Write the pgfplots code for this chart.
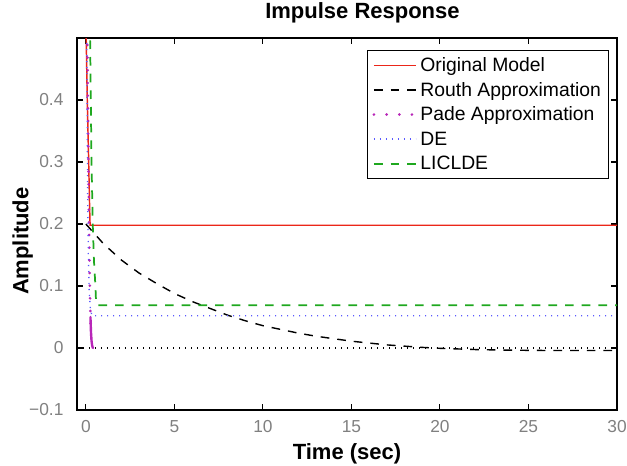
\documentclass[border=0pt]{standalone}
\usepackage{fontspec}
\setmainfont{Liberation Sans}
\usepackage{pgfplots}
\pgfplotsset{compat=1.18}
\definecolor{mred}{rgb}{0.92,0.15,0.1}
\definecolor{mgreen}{rgb}{0.12,0.66,0.12}
\definecolor{mmag}{rgb}{0.72,0.15,0.72}
\definecolor{mblue}{rgb}{0.35,0.35,1}
\definecolor{tickgray}{rgb}{0.5,0.5,0.5}
\begin{document}
\begin{tikzpicture}
\path[use as bounding box] (-57.75pt,-41.25pt) rectangle (412.5pt,307.5pt);
\begin{axis}[
  at={(0pt,0pt)}, anchor=south west,
  scale only axis, width=405pt, height=279pt,
  xmin=-0.5, xmax=30, ymin=-0.1, ymax=0.5,
  xtick={0,5,10,15,20,25,30},
  xticklabels={0,5,10,15,20,25,30},
  ytick={-0.1,0,0.1,0.2,0.3,0.4},
  yticklabels={−0.1,0,0.1,0.2,0.3,0.4},
  /pgf/number format/assume math mode=true,
  tick align=inside,
  major tick length=4.5pt,
  every tick/.style={black, line width=0.8pt},
  axis line style={black, line width=0.9pt},
  every tick label/.append style={text=tickgray, font=\fontsize{13}{15}\selectfont},
  xticklabel style={inner sep=0pt, anchor=north, yshift=-7.5pt},
  yticklabel style={inner sep=0pt, anchor=east, xshift=-10pt},
  title={Impulse Response},
  title style={at={(axis description cs:0.5,1)}, anchor=base, yshift=9pt, xshift=11.6pt, font=\bfseries\fontsize{16.5}{19}\selectfont},
  xlabel={Time (sec)},
  xlabel style={at={(axis description cs:0.5,0)}, anchor=base, yshift=-36.75pt, font=\bfseries\fontsize{16.5}{19}\selectfont},
  after end axis/.code={
    \node[anchor=base, rotate=90, inner sep=0pt, font=\bfseries\fontsize{16.5}{19}\selectfont]
      at ([xshift=-36.5pt]rel axis cs:0,0.454) {Amplitude};
  },
  legend style={at={(0.985,0.968)}, anchor=north east, draw=black, line width=0.9pt,
    inner xsep=4pt, inner ysep=4pt, row sep=4pt, column sep=0.75pt,
    font=\fontsize{14.5}{17}\selectfont,
    nodes={inner sep=1.5pt, text height=10.4pt, text depth=1pt}},
  legend cell align=left,
  legend image code/.code={\draw[#1] (0pt,0pt) -- (31.5pt,0pt);},
]
% zero reference line
\addplot[forget plot, black, line width=0.9pt, dash pattern=on 0.9pt off 3.6pt]
  coordinates {(-0.5,0) (30,0)};

% Original model
\addplot[mred, line width=1.1pt, legend image post style={line width=1.4pt}] coordinates {
 (0.0,0.56) (0.02,0.50) (0.08,0.40) (0.16,0.30) (0.21,0.23) (0.24,0.198) (30,0.198)};
\addlegendentry{Original Model}

% Routh approximation
\addplot[black, line width=1.05pt, dash pattern=on 6.5pt off 6pt, legend image post style={line width=1.4pt}] coordinates {
 (0,0.200) (1,0.168) (2,0.142) (3,0.121) (4,0.104) (5,0.088) (6,0.075) (7,0.064)
 (8,0.053) (9,0.044) (10,0.036) (11,0.030) (12,0.024) (13,0.019) (14,0.015)
 (15,0.011) (16,0.008) (17,0.005) (18,0.003) (19,0.001) (20,-0.0005) (21,-0.0015)
 (22,-0.0025) (23,-0.003) (24,-0.0035) (26,-0.004) (28,-0.004) (30,-0.004)};
\addlegendentry{Routh Approximation}

% Pade approximation
\addplot[mmag, line width=2.2pt, line cap=round, dash pattern=on 0pt off 9.5pt] coordinates {
 (0.06,0.55) (0.10,0.45) (0.13,0.35) (0.16,0.25) (0.20,0.15) (0.23,0.09)
 (0.26,0.05) (0.29,0.025)};
\addlegendentry{Pade Approximation}

% DE
\addplot[mblue, line width=1pt, dash pattern=on 0.9pt off 3.6pt] coordinates {
 (0.04,0.55) (0.07,0.40) (0.10,0.25) (0.14,0.15) (0.19,0.09) (0.26,0.062) (0.35,0.052) (30,0.052)};
\addlegendentry{DE}

% LICLDE
\addplot[mgreen, line width=1.3pt, dash pattern=on 6.5pt off 6pt, legend image post style={line width=1.6pt}] coordinates {
 (0.22,0.55) (0.24,0.50) (0.32,0.30) (0.39,0.20) (0.46,0.14) (0.54,0.10) (0.58,0.072) (0.62,0.069) (30,0.069)};
\addlegendentry{LICLDE}

% Pade tail (dense samples)
\addplot[forget plot, mmag, line width=1.8pt, line cap=round] coordinates {
 (0.26,0.05) (0.29,0.025) (0.32,0.012) (0.35,0.005) (0.38,0.0015) (0.40,0.0)};
\end{axis}
\end{tikzpicture}
\end{document}
